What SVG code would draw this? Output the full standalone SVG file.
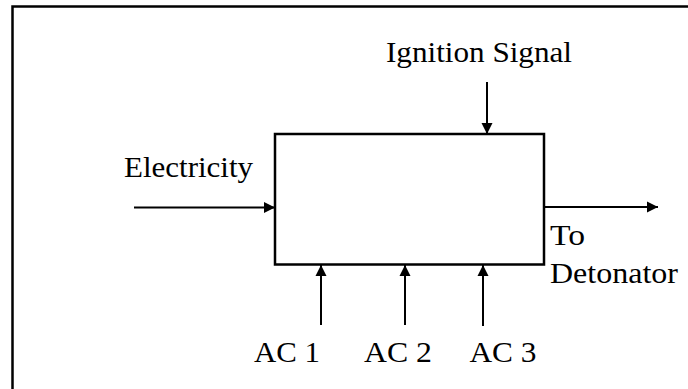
<svg xmlns="http://www.w3.org/2000/svg" width="688" height="389" viewBox="0 0 688 389">
  <style>
    .frame { fill: none; stroke: #000; stroke-width: 2.5; }
    .box { fill: #fff; stroke: #000; stroke-width: 2.5; }
    .conn { fill: none; stroke: #000; stroke-width: 2; marker-end: url(#head); }
  </style>
  <defs>
    <marker id="head" markerUnits="userSpaceOnUse" markerWidth="12" markerHeight="12" viewBox="0 0 12 12" refX="11" refY="6" orient="auto">
      <path d="M0,0.5 L11,6 L0,11.5 Z" fill="#000"/>
    </marker>
  </defs>

  <rect width="688" height="389" fill="#fff"/>
  <!-- outer frame, open to the right and bottom edges -->
  <path class="frame" d="M12.5,392 V6.5 H692"/>

  <g id="connectors">
    <line class="conn" x1="134" y1="207.5" x2="275" y2="207.5"/>
    <line class="conn" x1="487" y1="82" x2="487" y2="134"/>
    <line class="conn" x1="544" y1="207" x2="658" y2="207"/>
    <line class="conn" x1="321" y1="325" x2="321" y2="265"/>
    <line class="conn" x1="405" y1="325" x2="405" y2="265"/>
    <line class="conn" x1="483" y1="326" x2="483" y2="265"/>
  </g>

  <g id="process">
    <rect class="box" x="275" y="134" width="269" height="130.5"/>
  </g>

  <g font-size="29" fill="#000" font-family="Liberation Serif, Times New Roman, serif">
    <g id="ignition-signal">
      <text x="386" y="62" textLength="186" lengthAdjust="spacingAndGlyphs">Ignition Signal</text>
    </g>
    <g id="electricity">
      <text x="124" y="177" textLength="129" lengthAdjust="spacingAndGlyphs">Electricity</text>
    </g>
    <g id="to-detonator">
      <text x="550" y="245" textLength="35" lengthAdjust="spacingAndGlyphs">To</text>
      <text x="550" y="283" textLength="128" lengthAdjust="spacingAndGlyphs">Detonator</text>
    </g>
    <g id="ac1">
      <text x="254" y="362" textLength="66" lengthAdjust="spacingAndGlyphs">AC 1</text>
    </g>
    <g id="ac2">
      <text x="364" y="362" textLength="68" lengthAdjust="spacingAndGlyphs">AC 2</text>
    </g>
    <g id="ac3">
      <text x="469.5" y="362" textLength="67" lengthAdjust="spacingAndGlyphs">AC 3</text>
    </g>
  </g>
</svg>
